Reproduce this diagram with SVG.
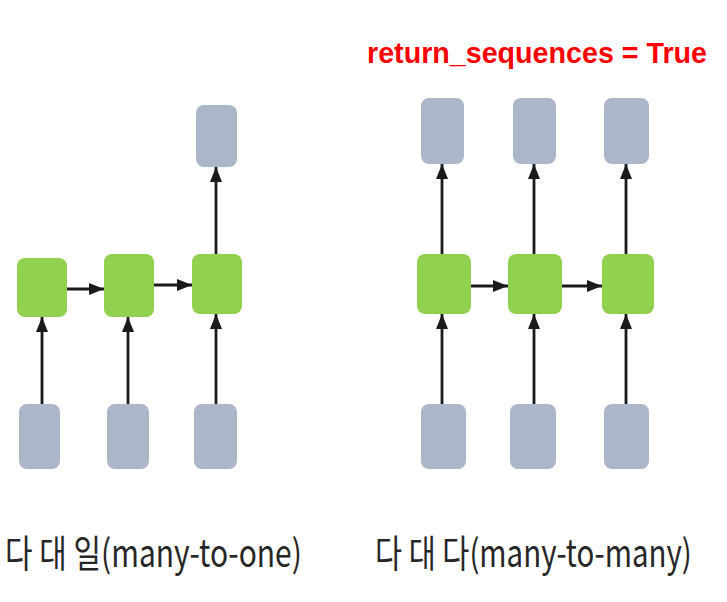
<svg xmlns="http://www.w3.org/2000/svg" width="727" height="602" viewBox="0 0 727 602">
<defs>
<marker id="ah" markerUnits="userSpaceOnUse" markerWidth="15" markerHeight="12" refX="15" refY="6" orient="auto" viewBox="0 0 15 12">
<path d="M0,0 L15,6 L0,12 Z" fill="#1a1a1a"/>
</marker>
</defs>
<style>
.io{fill:#abb6c8;}
.h{fill:#92d050;}
.c line{stroke:#1a1a1a;stroke-width:2.8;marker-end:url(#ah);}
.lbl{font-family:"Noto Sans CJK KR","Liberation Sans",sans-serif;font-size:38px;fill:#262626;}
.red{font-family:"Liberation Sans",sans-serif;font-weight:bold;font-size:29px;fill:#ff0000;}
</style>
<rect width="727" height="602" fill="#ffffff"/>
<text class="red" x="367" y="63" textLength="340" lengthAdjust="spacingAndGlyphs">return_sequences = True</text>
<!-- left: many-to-one -->
<g id="l_in1"><rect class="io" x="19" y="404" width="41" height="65" rx="8"/></g>
<g id="l_in2"><rect class="io" x="107" y="404" width="42" height="65" rx="8"/></g>
<g id="l_in3"><rect class="io" x="194" y="404" width="43" height="65" rx="8"/></g>
<g id="l_h1"><rect class="h" x="17" y="258" width="50" height="59" rx="8"/></g>
<g id="l_h2"><rect class="h" x="104" y="254" width="50" height="63" rx="8"/></g>
<g id="l_h3"><rect class="h" x="192" y="254" width="50" height="60" rx="8"/></g>
<g id="l_out"><rect class="io" x="196" y="105" width="41" height="62" rx="8"/></g>
<!-- right: many-to-many -->
<g id="r_in1"><rect class="io" x="421" y="404" width="45" height="65" rx="8"/></g>
<g id="r_in2"><rect class="io" x="510" y="404" width="46" height="65" rx="8"/></g>
<g id="r_in3"><rect class="io" x="604" y="404" width="45" height="65" rx="8"/></g>
<g id="r_h1"><rect class="h" x="417" y="254" width="54" height="60" rx="8"/></g>
<g id="r_h2"><rect class="h" x="508" y="254" width="54" height="60" rx="8"/></g>
<g id="r_h3"><rect class="h" x="602" y="254" width="52" height="60" rx="8"/></g>
<g id="r_out1"><rect class="io" x="421" y="98" width="43" height="66" rx="8"/></g>
<g id="r_out2"><rect class="io" x="513" y="98" width="43" height="66" rx="8"/></g>
<g id="r_out3"><rect class="io" x="604" y="98" width="45" height="66" rx="8"/></g>
<g id="connectors" class="c">
<line x1="42" y1="404" x2="42" y2="317"/>
<line x1="128" y1="404" x2="128" y2="317"/>
<line x1="216" y1="404" x2="216" y2="314"/>
<line x1="67" y1="289" x2="104" y2="289"/>
<line x1="154" y1="285" x2="192" y2="285"/>
<line x1="216" y1="254" x2="216" y2="167"/>
<line x1="442" y1="404" x2="442" y2="314"/>
<line x1="534" y1="404" x2="534" y2="314"/>
<line x1="626" y1="404" x2="626" y2="314"/>
<line x1="471" y1="286" x2="508" y2="286"/>
<line x1="562" y1="286" x2="602" y2="286"/>
<line x1="442" y1="254" x2="442" y2="164"/>
<line x1="534" y1="254" x2="534" y2="164"/>
<line x1="626" y1="254" x2="626" y2="164"/>
</g>
<text class="lbl" transform="translate(5,567) scale(0.8,1)" x="0" y="0" textLength="371" lengthAdjust="spacingAndGlyphs">다 대 일(many-to-one)</text>
<text class="lbl" transform="translate(375,567) scale(0.8,1)" x="0" y="0" textLength="396" lengthAdjust="spacingAndGlyphs">다 대 다(many-to-many)</text>
</svg>
